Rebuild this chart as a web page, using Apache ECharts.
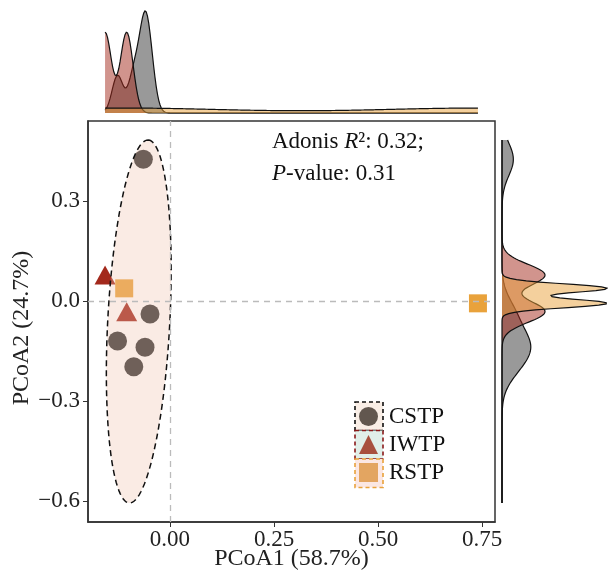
<!DOCTYPE html>
<html lang="en">
<head>
<meta charset="UTF-8" />
<title>PCoA with marginal densities</title>
<script src="https://cdn.jsdelivr.net/npm/echarts@6.0.0/dist/echarts.min.js"></script>
<style>
  html, body { margin: 0; padding: 0; background: #fff; }
</style>
</head>
<body>
<div id="chart" style="width: 608px; height: 578px"></div>
<script>
// groups and their colours
const groups = ["CSTP", "IWTP", "RSTP"];
const colors = ["#333333", "#a3291c", "#e9a23b"];

// PCoA scores: [PCoA1, PCoA2]
const cstpPoints = [[-0.064, 0.425], [-0.048, -0.039], [-0.126, -0.12], [-0.06, -0.139], [-0.087, -0.197]];
const iwtpPoints = [[-0.156, 0.078], [-0.104, -0.032]];
const rstpPoints = [[-0.11, 0.038], [0.74, -0.007]];

// CSTP confidence ellipse: centre, major and minor semi-axis vectors
const ellipseCentre = [-0.075, -0.0615];
const ellipseMajor = [0.0228, 0.5445];
const ellipseMinor = [0.0745, -0.0049];

// axis ticks
const xTicks = [0, 0.25, 0.5, 0.75];
const yTicks = [-0.6, -0.3, 0, 0.3];

const FONT = "Liberation Serif";
const allPoints = [cstpPoints, iwtpPoints, rstpPoints];

// ellipse outline
const ellipse = [];
for (let i = 0; i <= 120; i++) {
  const t = (2 * Math.PI * i) / 120;
  ellipse.push([
    ellipseCentre[0] + ellipseMajor[0] * Math.cos(t) + ellipseMinor[0] * Math.sin(t),
    ellipseCentre[1] + ellipseMajor[1] * Math.cos(t) + ellipseMinor[1] * Math.sin(t),
  ]);
}

// gaussian kernel density, bandwidth like R's bw.nrd0
function bwNrd0(v) {
  const n = v.length;
  const s = [...v].sort((a, b) => a - b);
  const mean = v.reduce((a, b) => a + b, 0) / n;
  const sd = Math.sqrt(v.reduce((a, b) => a + (b - mean) ** 2, 0) / (n - 1));
  const q = (p) => {
    const h = (n - 1) * p, lo = Math.floor(h);
    return s[lo] + (h - lo) * (s[Math.min(lo + 1, n - 1)] - s[lo]);
  };
  const lo = Math.min(sd, (q(0.75) - q(0.25)) / 1.34) || sd;
  return 0.9 * lo * Math.pow(n, -0.2);
}
function kde(v, from, to) {
  const bw = bwNrd0(v);
  const out = [];
  const m = 300;
  for (let i = 0; i < m; i++) {
    const x = from + ((to - from) * i) / (m - 1);
    let d = 0;
    v.forEach((p) => {
      const z = (x - p) / bw;
      d += Math.exp(-0.5 * z * z);
    });
    out.push([x, d / (v.length * bw * Math.sqrt(2 * Math.PI))]);
  }
  return out;
}

// density ranges: x over the points, y over the ellipse
const xs = allPoints.flat().map((p) => p[0]);
const ys = ellipse.map((p) => p[1]).concat(allPoints.flat().map((p) => p[1]));
const xFrom = Math.min(...xs), xTo = Math.max(...xs);
const yFrom = Math.min(...ys), yTo = Math.max(...ys);

const topDens = allPoints.map((g) => kde(g.map((p) => p[0]), xFrom, xTo));
const rightDens = allPoints.map((g) => kde(g.map((p) => p[1]), yFrom, yTo).map((d) => [d[1], d[0]]));
const topMax = Math.max(...topDens.flat().map((d) => d[1]));
const rightMax = Math.max(...rightDens.flat().map((d) => d[0]));

function hexA(hex, a) {
  const n = parseInt(hex.slice(1), 16);
  return `rgba(${n >> 16},${(n >> 8) & 255},${n & 255},${a})`;
}

// filled density drawn as one polygon from its own points
function densitySeries(curve, color, idx, vertical) {
  return {
    type: "custom",
    xAxisIndex: idx,
    yAxisIndex: idx,
    silent: true,
    data: curve,
    renderItem: (params, api) => {
      if (params.dataIndex !== 0) return null;
      const line = curve.map((d) => api.coord(d));
      const first = vertical ? [0, curve[0][1]] : [curve[0][0], 0];
      const last = vertical ? [0, curve[curve.length - 1][1]] : [curve[curve.length - 1][0], 0];
      const poly = [api.coord(first)].concat(line, [api.coord(last)]);
      return {
        type: "group",
        children: [
          { type: "polygon", shape: { points: poly }, style: { fill: hexA(color, 0.5), stroke: null } },
          { type: "polyline", shape: { points: line }, style: { fill: null, stroke: "#111", lineWidth: 1.2 } },
        ],
      };
    },
  };
}

const chart = echarts.init(document.getElementById("chart"));

const symbols = ["circle", "triangle", "rect"];
const symbolSizes = [19, [21, 19], 18];

const option = {
  animation: false,
  textStyle: { fontFamily: FONT },
  grid: [
    { left: 88, top: 121, width: 407, height: 401, show: true, borderColor: "#333", borderWidth: 1.5, outerBoundsMode: "none" },
    { left: 88, top: 11, width: 407, height: 102, outerBoundsMode: "none" },
    { left: 502, top: 121, width: 105, height: 401, outerBoundsMode: "none" },
  ],
  xAxis: [
    {
      type: "value",
      gridIndex: 0,
      min: -0.197,
      max: 0.781,
      name: "PCoA1 (58.7%)",
      nameLocation: "middle",
      nameGap: 25,
      nameMoveOverlap: false,
      nameTextStyle: { fontFamily: FONT, fontSize: 24, color: "#222" },
      splitLine: { show: false },
      axisLine: { show: true, onZero: false, lineStyle: { color: "#333", width: 1.5 } },
      axisTick: { show: true, length: 5, lineStyle: { color: "#333" }, customValues: xTicks },
      axisLabel: {
        fontFamily: FONT, fontSize: 23, color: "#222", margin: 6,
        customValues: xTicks,
        formatter: (v) => v.toFixed(2),
      },
    },
    { type: "value", gridIndex: 1, min: -0.197, max: 0.781, show: false },
    { type: "value", gridIndex: 2, min: 0, max: rightMax, show: false },
  ],
  yAxis: [
    {
      type: "value",
      gridIndex: 0,
      min: -0.663,
      max: 0.54,
      splitLine: { show: false },
      axisLine: { show: true, onZero: false, lineStyle: { color: "#333", width: 1.5 } },
      axisTick: { show: true, length: 5, lineStyle: { color: "#333" }, customValues: yTicks },
      axisLabel: {
        fontFamily: FONT, fontSize: 23, color: "#222", margin: 8,
        customValues: yTicks,
        formatter: (v) => v.toFixed(1).replace("-", "\u2212"),
      },
    },
    { type: "value", gridIndex: 1, min: 0, max: topMax, show: false },
    { type: "value", gridIndex: 2, min: -0.663, max: 0.54, show: false },
  ],
  legend: {
    orient: "vertical",
    left: 359,
    top: 405,
    padding: 0,
    itemWidth: 19,
    itemHeight: 19,
    itemGap: 5,
    textStyle: { fontFamily: FONT, fontSize: 23, color: "#111", padding: [0, 0, 0, 6] },
    data: [
      { name: "CSTP", icon: "circle", itemStyle: { color: "#62574f" } },
      { name: "IWTP", icon: "triangle", itemStyle: { color: "#a8503e" } },
      { name: "RSTP", icon: "rect", itemStyle: { color: "#e3a561" } },
    ],
  },
  graphic: [
    // legend key backgrounds
    ...["#f9eee6", "#e1efe9", "#fbe7e3"].map((fill, i) => ({
      type: "rect",
      shape: { x: 355, y: 402 + i * 28.5, width: 28, height: 28.5 },
      style: { fill: fill, stroke: ["#111", "#8b1a1a", "#e9a23b"][i], lineWidth: 1.6, lineDash: [4, 3] },
      z: 1,
    })),
    {
      type: "text",
      left: 272,
      top: 130,
      style: {
        text: "{n|Adonis }{i|R}{n|\u00b2: 0.32;}\n{i|P}{n|-value: 0.31}",
        rich: {
          n: { fontFamily: FONT, fontSize: 23, lineHeight: 32, fill: "#111" },
          i: { fontFamily: FONT, fontSize: 23, lineHeight: 32, fontStyle: "italic", fill: "#111" },
        },
      },
    },
    {
      type: "text",
      x: 22,
      y: 328,
      rotation: Math.PI / 2,
      style: {
        text: "PCoA2 (24.7%)",
        fontFamily: FONT,
        fontSize: 24,
        fill: "#222",
        textAlign: "center",
        textVerticalAlign: "middle",
      },
    },
  ],
  series: [
    ...topDens.map((c, i) => densitySeries(c, colors[i], 1, false)),
    ...rightDens.map((c, i) => densitySeries(c, colors[i], 2, true)),
    {
      // zero reference lines
      type: "scatter",
      xAxisIndex: 0,
      yAxisIndex: 0,
      data: [],
      silent: true,
      markLine: {
        silent: true,
        symbol: "none",
        label: { show: false },
        lineStyle: { color: "#bbb", type: [6, 5], width: 1.3 },
        data: [{ xAxis: 0 }, { yAxis: 0 }],
      },
    },
    ...groups.map((name, i) => ({
      name: name,
      type: "scatter",
      xAxisIndex: 0,
      yAxisIndex: 0,
      symbol: symbols[i],
      symbolSize: symbolSizes[i],
      itemStyle: { color: colors[i], opacity: 1 },
      data: allPoints[i],
      z: 3,
    })),
    {
      // CSTP ellipse drawn over the points
      type: "custom",
      xAxisIndex: 0,
      yAxisIndex: 0,
      silent: true,
      data: ellipse,
      z: 4,
      renderItem: (params, api) => {
        if (params.dataIndex !== 0) return null;
        return {
          type: "polygon",
          shape: { points: ellipse.map((p) => api.coord(p)) },
          style: { fill: "rgba(239,192,170,0.32)", stroke: "#111", lineWidth: 1.5, lineDash: [6, 4] },
        };
      },
    },
  ],
};

chart.setOption(option);
</script>
</body>
</html>
